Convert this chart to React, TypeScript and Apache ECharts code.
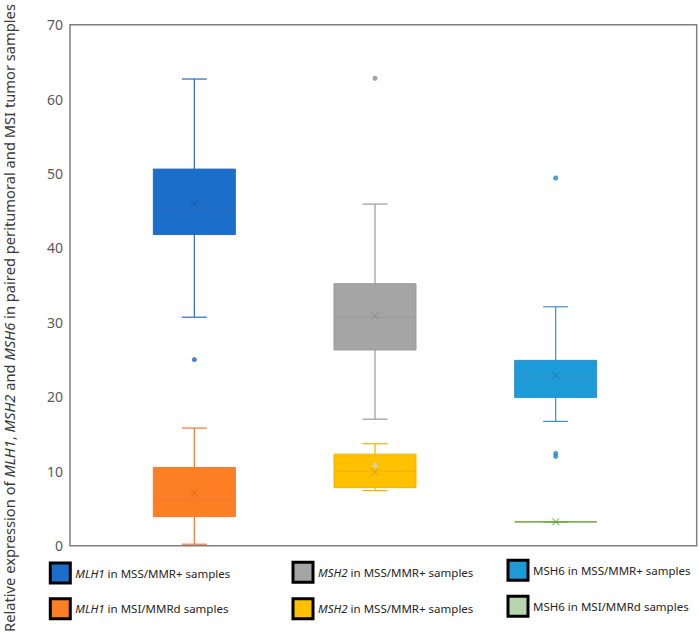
import React, { useEffect, useRef } from 'react';
import * as echarts from 'echarts';

const genes = ['MLH1', 'MSH2', 'MSH6'];
const seriesNames = [
  'MLH1 in MSS/MMR+ samples',
  'MLH1 in MSI/MMRd samples',
  'MSH2 in MSS/MMR+ samples',
  'MSH2 in MSI/MMRd samples',
  'MSH6 in MSS/MMR+ samples',
  'MSH6 in MSI/MMRd samples',
];
const legendLabels = [
  '{i|MLH1} in MSS/MMR+ samples',
  '{i|MLH1} in MSI/MMRd samples',
  '{i|MSH2} in MSS/MMR+ samples',
  '{i|MSH2} in MSS/MMR+ samples',
  'MSH6 in MSS/MMR+ samples',
  'MSH6 in MSI/MMRd samples',
];
const seriesGene = [0, 0, 1, 1, 2, 2];

// [min, q1, median, q3, max]
const mlh1Mss = [30.7, 41.8, 45.1, 50.6, 62.7];
const mlh1Msi = [0.2, 3.9, 6.2, 10.5, 15.8];
const msh2Mss = [17.0, 26.3, 30.7, 35.2, 45.9];
const msh2Msi = [7.4, 7.8, 10.0, 12.3, 13.7];
const msh6Mss = [16.7, 19.9, 22.6, 24.9, 32.1];
const msh6Msi = [3.2, 3.2, 3.2, 3.2, 3.2];
const boxes = [mlh1Mss, mlh1Msi, msh2Mss, msh2Msi, msh6Mss, msh6Msi];
const means = [46.0, 7.1, 30.9, 9.9, 22.9, 3.2];

const mlh1MssOutliers = [25.0];
const msh2MssOutliers = [62.8];
const msh6MssOutliers = [49.4, 12.4, 12.0];
const msh2MsiPoints = [10.8];

const yTicks = { min: 0, max: 70, interval: 10 };

const fills = ['#1b6fca', '#fd7f23', '#a5a5a5', '#ffc000', '#1d9bd8', '#b8d5ab'];
const boxFills = ['#1b6fca', '#fd7f23', '#a5a5a5', '#ffc000', '#1d9bd8', 'none'];
const lines = ['#2f69b5', '#f2783a', '#9a9a9a', '#f0b400', '#3a8fc8', '#70ad47'];
const marks = ['#1559a6', '#d9661a', '#8a8a8a', '#d9a200', '#1a7ab0', '#5e9e3a'];
const legendPos = [
  [48.8, 561.5],
  [48.8, 597.2],
  [291.5, 560.8],
  [291.5, 597.2],
  [506.5, 558.8],
  [506.5, 594.8],
];

const FONT = "'Noto Sans', 'Open Sans', sans-serif";

function makeRender(s: number) {
  return (params: any, api: any) => {
    const g = api.value(0);
    const p = (v: number) => api.coord([g, v]);
    const [cx, yMin] = p(api.value(1));
    const yQ1 = p(api.value(2))[1];
    const yMed = p(api.value(3))[1];
    const yQ3 = p(api.value(4))[1];
    const yMax = p(api.value(5))[1];
    const yMean = p(api.value(6))[1];
    const hw = 41;
    const cw = 12.5;
    const m = 3.5;
    const ls = { stroke: lines[s], lineWidth: 1.2 };
    return {
      type: 'group',
      children: [
        { type: 'line', shape: { x1: cx, y1: yQ3, x2: cx, y2: yMax }, style: ls },
        { type: 'line', shape: { x1: cx, y1: yQ1, x2: cx, y2: yMin }, style: ls },
        { type: 'line', shape: { x1: cx - cw, y1: yMax, x2: cx + cw, y2: yMax }, style: ls },
        { type: 'line', shape: { x1: cx - cw, y1: yMin, x2: cx + cw, y2: yMin }, style: ls },
        {
          type: 'rect',
          shape: { x: cx - hw, y: yQ3, width: 2 * hw, height: yQ1 - yQ3 },
          style: { fill: boxFills[s], stroke: lines[s], lineWidth: s === 5 ? 1.4 : 1 },
        },
        { type: 'line', shape: { x1: cx - hw, y1: yMed, x2: cx + hw, y2: yMed }, style: { stroke: lines[s], lineWidth: 1 } },
        { type: 'line', shape: { x1: cx - m, y1: yMean - m, x2: cx + m, y2: yMean + m }, style: { stroke: marks[s], lineWidth: 1 } },
        { type: 'line', shape: { x1: cx - m, y1: yMean + m, x2: cx + m, y2: yMean - m }, style: { stroke: marks[s], lineWidth: 1 } },
      ],
    };
  };
}

export default function App() {
  const ref = useRef<HTMLDivElement>(null);
  useEffect(() => {
    if (!ref.current) return;
    const chart = echarts.init(ref.current, undefined, { renderer: 'svg' });

    const boxSeries = seriesNames.map((name, s) => ({
      name,
      type: 'custom',
      xAxisIndex: 1,
      yAxisIndex: 1,
      itemStyle: { color: fills[s] },
      renderItem: makeRender(s),
      encode: { x: 0, y: [1, 2, 3, 4, 5] },
      data: [[seriesGene[s], ...boxes[s], means[s]]],
      z: 2,
    }));

    const scatter = (vals: number[], g: number, color: string, size = 5) => ({
      type: 'scatter',
      xAxisIndex: 1,
      yAxisIndex: 1,
      symbol: 'circle',
      symbolSize: size,
      itemStyle: { color },
      data: vals.map((v) => [g, v]),
      z: 3,
    });

    const legends = seriesNames.map((name, s) => ({
      data: [name],
      left: legendPos[s][0],
      top: legendPos[s][1],
      padding: 0,
      itemWidth: 20,
      itemHeight: 20,
      icon: 'rect',
      selectedMode: false,
      itemStyle: { borderColor: '#000', borderWidth: 3 },
      formatter: () => legendLabels[s],
      textStyle: {
        fontFamily: FONT,
        fontSize: 11.5,
        color: '#262626',
        rich: { i: { fontStyle: 'italic', fontFamily: FONT, fontSize: 11.5, color: '#262626' } },
      },
    }));

    chart.setOption({
      animation: false,
      backgroundColor: '#fff',
      grid: [
        { left: 70, top: 24.7, right: 2.3, bottom: 91.3, show: true, borderColor: '#7f7f7f', borderWidth: 1.5, backgroundColor: 'transparent' },
        { left: 104, width: 542, top: 24.7, bottom: 91.3 },
      ],
      xAxis: [
        { gridIndex: 0, type: 'value', min: 0, max: 1, show: false },
        { gridIndex: 1, type: 'category', data: genes, show: false },
      ],
      yAxis: [
        {
          gridIndex: 0,
          type: 'value',
          min: yTicks.min,
          max: yTicks.max,
          interval: yTicks.interval,
          axisLine: { show: false },
          axisTick: { show: false },
          splitLine: { show: false },
          axisLabel: { color: '#595959', fontSize: 14, fontFamily: FONT, margin: 7 },
        },
        { gridIndex: 1, type: 'value', min: yTicks.min, max: yTicks.max, interval: yTicks.interval, show: false },
      ],
      legend: legends,
      graphic: [
        {
          type: 'text',
          x: 9,
          y: 318,
          rotation: Math.PI / 2,
          style: {
            text: 'Relative expression of {i|MLH1}, {i|MSH2} and {i|MSH6} in paired peritumoral and MSI tumor samples',
            textAlign: 'center',
            textVerticalAlign: 'middle',
            align: 'center',
            verticalAlign: 'middle',
            fill: '#3a3a3a',
            fontFamily: FONT,
            fontSize: 14.7,
            rich: { i: { fontStyle: 'italic', fontFamily: FONT, fontSize: 14.7, fill: '#3a3a3a', color: '#3a3a3a' } },
          },
        },
      ],
      series: [
        ...boxSeries,
        scatter(mlh1MssOutliers, 0, '#1565c0'),
        scatter(msh2MssOutliers, 1, '#8c8c8c'),
        scatter(msh6MssOutliers, 2, '#1a86cc'),
        scatter(msh2MsiPoints, 1, '#c9d3e6'),
      ],
    });
    return () => chart.dispose();
  }, []);
  return <div ref={ref} style={{ position: 'absolute', left: 0, top: 0, width: 699, height: 637 }} />;
}
